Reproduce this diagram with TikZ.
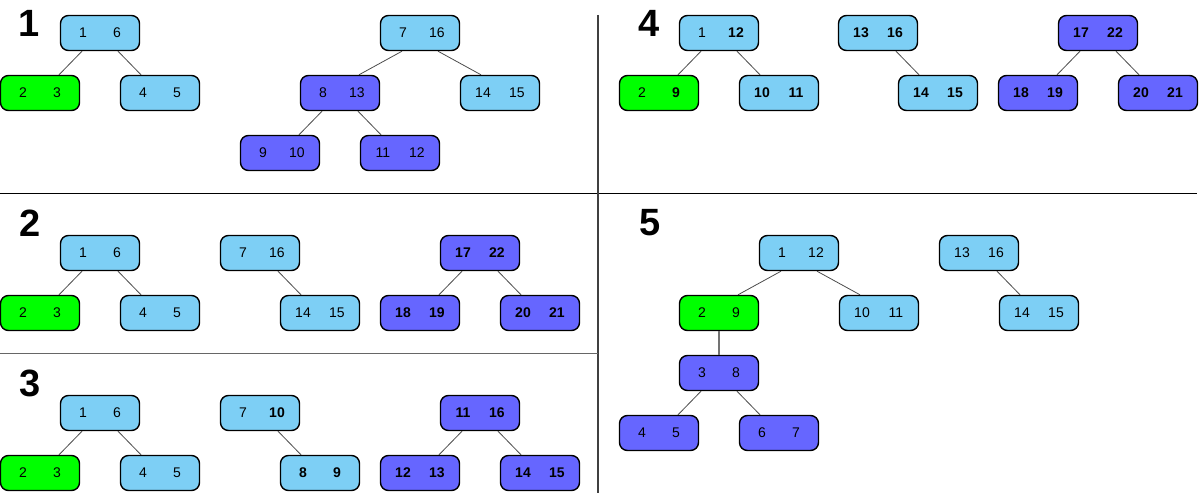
\documentclass[tikz,border=0pt]{standalone}
\usepackage{fontspec}
\setmainfont{Liberation Sans}
\usetikzlibrary{positioning}
\definecolor{keyblue}{RGB}{125,207,245}
\definecolor{keygreen}{RGB}{0,255,0}
\definecolor{keyviolet}{RGB}{102,102,255}
\newcommand{\keys}[2]{\makebox[20pt]{#1}\hspace{14pt}\makebox[20pt]{#2}}
\begin{document}
\begin{tikzpicture}[
		bx/.style={draw,line width=1.4pt,rounded corners=8pt,minimum width=79pt,minimum height=35pt,inner sep=0pt,font=\fontsize{14}{14}\selectfont},
		lb/.style={bx,fill=keyblue},
		gr/.style={bx,fill=keygreen},
		pu/.style={bx,fill=keyviolet},
		lk/.style={draw=black!70,line width=0.8pt},
		num/.style={font=\fontsize{38}{38}\selectfont\bfseries},
		x=1pt,y=-1pt]
	\useasboundingbox (0,0) rectangle (1201,495);
	%% frame
	\draw[line width=1pt] (0,193) -- (1197,193);
	\draw[line width=1.3pt,black!75] (598,15) -- (598,493);
	\draw[line width=1pt,black!60] (0,353) -- (598,353);
	%% step labels
	\node[num] (n1) at (29,23) {1};
	\node[num] (n2) at (30,223) {2};
	\node[num] (n3) at (30,383) {3};
	\node[num] (n4) at (649,23) {4};
	\node[num] (n5) at (650,223) {5};
	%% step 1
	\node (a1) at (100,33) [lb] {\keys{1}{6}};
	\node (a2) at (40,93) [gr] {\keys{2}{3}};
	\node (a3) at (160,93) [lb] {\keys{4}{5}};
	\node (a4) at (420,33) [lb] {\keys{7}{16}};
	\node (a5) at (340,93) [pu] {\keys{8}{13}};
	\node (a6) at (500,93) [lb] {\keys{14}{15}};
	\node (a7) at (280,153) [pu] {\keys{9}{10}};
	\node (a8) at (400,153) [pu] {\keys{11}{12}};
	%% step 2
	\node (b1) at (100,253) [lb] {\keys{1}{6}};
	\node (b2) at (40,313) [gr] {\keys{2}{3}};
	\node (b3) at (160,313) [lb] {\keys{4}{5}};
	\node (b4) at (260,253) [lb] {\keys{7}{16}};
	\node (b5) at (320,313) [lb] {\keys{14}{15}};
	\node (b6) at (480,253) [pu] {\keys{\textbf{17}}{\textbf{22}}};
	\node (b7) at (420,313) [pu] {\keys{\textbf{18}}{\textbf{19}}};
	\node (b8) at (540,313) [pu] {\keys{\textbf{20}}{\textbf{21}}};
	%% step 3
	\node (c1) at (100,413) [lb] {\keys{1}{6}};
	\node (c2) at (40,473) [gr] {\keys{2}{3}};
	\node (c3) at (160,473) [lb] {\keys{4}{5}};
	\node (c4) at (260,413) [lb] {\keys{7}{\textbf{10}}};
	\node (c5) at (320,473) [lb] {\keys{\textbf{8}}{\textbf{9}}};
	\node (c6) at (480,413) [pu] {\keys{\textbf{11}}{\textbf{16}}};
	\node (c7) at (420,473) [pu] {\keys{\textbf{12}}{\textbf{13}}};
	\node (c8) at (540,473) [pu] {\keys{\textbf{14}}{\textbf{15}}};
	%% step 4
	\node (d1) at (719,33) [lb] {\keys{1}{\textbf{12}}};
	\node (d2) at (659,93) [gr] {\keys{2}{\textbf{9}}};
	\node (d3) at (779,93) [lb] {\keys{\textbf{10}}{\textbf{11}}};
	\node (d4) at (878,33) [lb] {\keys{\textbf{13}}{\textbf{16}}};
	\node (d5) at (938,93) [lb] {\keys{\textbf{14}}{\textbf{15}}};
	\node (d6) at (1098,33) [pu] {\keys{\textbf{17}}{\textbf{22}}};
	\node (d7) at (1038,93) [pu] {\keys{\textbf{18}}{\textbf{19}}};
	\node (d8) at (1158,93) [pu] {\keys{\textbf{20}}{\textbf{21}}};
	%% step 5
	\node (e1) at (799,253) [lb] {\keys{1}{12}};
	\node (e2) at (719,313) [gr] {\keys{2}{9}};
	\node (e3) at (879,313) [lb] {\keys{10}{11}};
	\node (e4) at (979,253) [lb] {\keys{13}{16}};
	\node (e5) at (1039,313) [lb] {\keys{14}{15}};
	\node (e6) at (719,373) [pu] {\keys{3}{8}};
	\node (e7) at (659,433) [pu] {\keys{4}{5}};
	\node (e8) at (779,433) [pu] {\keys{6}{7}};
	%% links
	\foreach \p/\c in {a1/a2,a4/a5,a5/a7,b1/b2,b6/b7,c1/c2,c6/c7,d1/d2,d6/d7,e1/e2,e6/e7}
		\draw[lk] ([xshift=-18pt]\p.south) -- ([xshift=19pt]\c.north);
	\foreach \p/\c in {a1/a3,a4/a6,a5/a8,b1/b3,b4/b5,b6/b8,c1/c3,c4/c5,c6/c8,d1/d3,d4/d5,d6/d8,e1/e3,e4/e5,e6/e8}
		\draw[lk] ([xshift=18pt]\p.south) -- ([xshift=-19pt]\c.north);
	\draw[lk,line width=1.2pt,black!55] (e2) -- (e6);
\end{tikzpicture}
\end{document}
